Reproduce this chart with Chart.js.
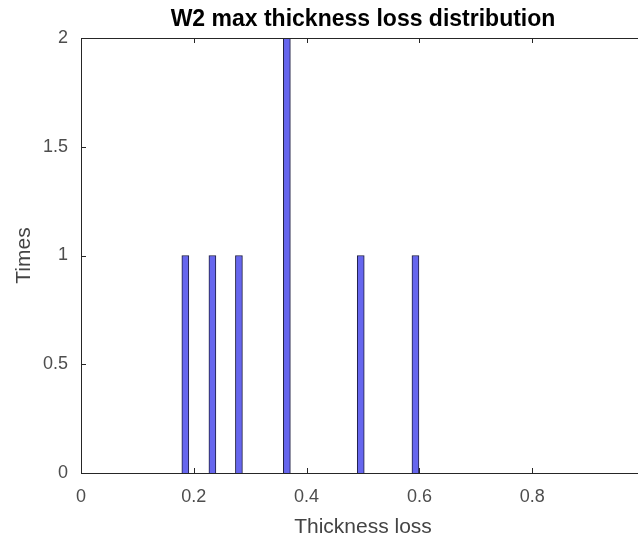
<!DOCTYPE html>
<html>
<head>
<meta charset="utf-8">
<script src="https://cdn.jsdelivr.net/npm/chart.js@4/dist/chart.umd.min.js"></script>
<style>
  html, body { margin: 0; padding: 0; background: #fff; overflow: hidden; }
  #wrap { width: 638px; height: 540px; overflow: hidden; }
</style>
</head>
<body>
<div id="wrap"><canvas id="myChart" width="660" height="540"></canvas></div>
<script>
// histogram bins (bin centre in thickness loss, count)
const binCenters = [0.185, 0.233, 0.280, 0.365, 0.496, 0.593];
const binCounts = [1, 1, 1, 2, 1, 1];
const xTicks = [0, 0.2, 0.4, 0.6, 0.8, 1];
const yTicks = [0, 0.5, 1, 1.5, 2];

const family = "'Liberation Sans', Arial, sans-serif";
const tickFont = { family: family, size: 18 };

// matlab style box + inward ticks
const boxPlugin = {
  id: "box",
  afterDraw(chart) {
    const { ctx, chartArea: a, scales } = chart;
    ctx.save();
    ctx.strokeStyle = "#262626";
    ctx.lineWidth = 1;
    ctx.strokeRect(a.left + 0.5, a.top + 0.5, a.right - a.left, a.bottom - a.top);
    const len = 5;
    ctx.beginPath();
    for (const t of xTicks) {
      const px = Math.round(scales.x.getPixelForValue(t)) + 0.5;
      ctx.moveTo(px, a.bottom);
      ctx.lineTo(px, a.bottom - len);
      ctx.moveTo(px, a.top);
      ctx.lineTo(px, a.top + len);
    }
    for (const t of yTicks) {
      const py = Math.round(scales.y.getPixelForValue(t)) + 0.5;
      ctx.moveTo(a.left, py);
      ctx.lineTo(a.left + len, py);
      ctx.moveTo(a.right, py);
      ctx.lineTo(a.right - len, py);
    }
    ctx.stroke();
    ctx.restore();
  },
};

const ctx = document.getElementById("myChart").getContext("2d");
const chart = new Chart(ctx, {
  type: "bar",
  data: {
    datasets: [
      {
        data: binCenters.map((c, i) => ({ x: c, y: binCounts[i] })),
        backgroundColor: "#6666ee",
        borderColor: "#1c1c40",
        borderWidth: 1,
        barThickness: 7,
      },
    ],
  },
  options: {
    responsive: false,
    animation: false,
    layout: { padding: { left: 0, right: 15, top: 0, bottom: 0 } },
    plugins: {
      legend: { display: false },
      tooltip: { enabled: false },
      title: {
        display: true,
        text: "W2 max thickness loss distribution",
        fullSize: false,
        color: "#000",
        font: { family: family, size: 23, weight: "bold" },
        padding: { top: 6, bottom: 4.4 },
      },
    },
    scales: {
      x: {
        type: "linear",
        offset: false,
        min: 0,
        max: 1,
        afterBuildTicks: (s) => { s.ticks = xTicks.map((v) => ({ value: v })); },
        afterFit: (s) => { s.height = 67; s.paddingLeft = 0; s.paddingRight = 0; },
        grid: { display: false, drawTicks: false, offset: false },
        border: { display: false },
        ticks: { color: "#4d4d4d", font: tickFont, padding: 13, maxRotation: 0, callback: (v) => String(v) },
        title: {
          display: true,
          text: "Thickness loss",
          color: "#444",
          font: { family: family, size: 21 },
          padding: { top: 0, bottom: 0 },
        },
      },
      y: {
        min: 0,
        max: 2,
        afterBuildTicks: (s) => { s.ticks = yTicks.map((v) => ({ value: v })); },
        afterFit: (s) => { s.width = 81; },
        grid: { display: false, drawTicks: false },
        border: { display: false },
        ticks: { color: "#4d4d4d", font: tickFont, padding: 13, callback: (v) => String(v) },
        title: {
          display: true,
          text: "Times",
          color: "#444",
          font: { family: family, size: 21 },
          padding: { top: 12, bottom: 0 },
        },
      },
    },
  },
  plugins: [boxPlugin],
});
</script>
</body>
</html>
